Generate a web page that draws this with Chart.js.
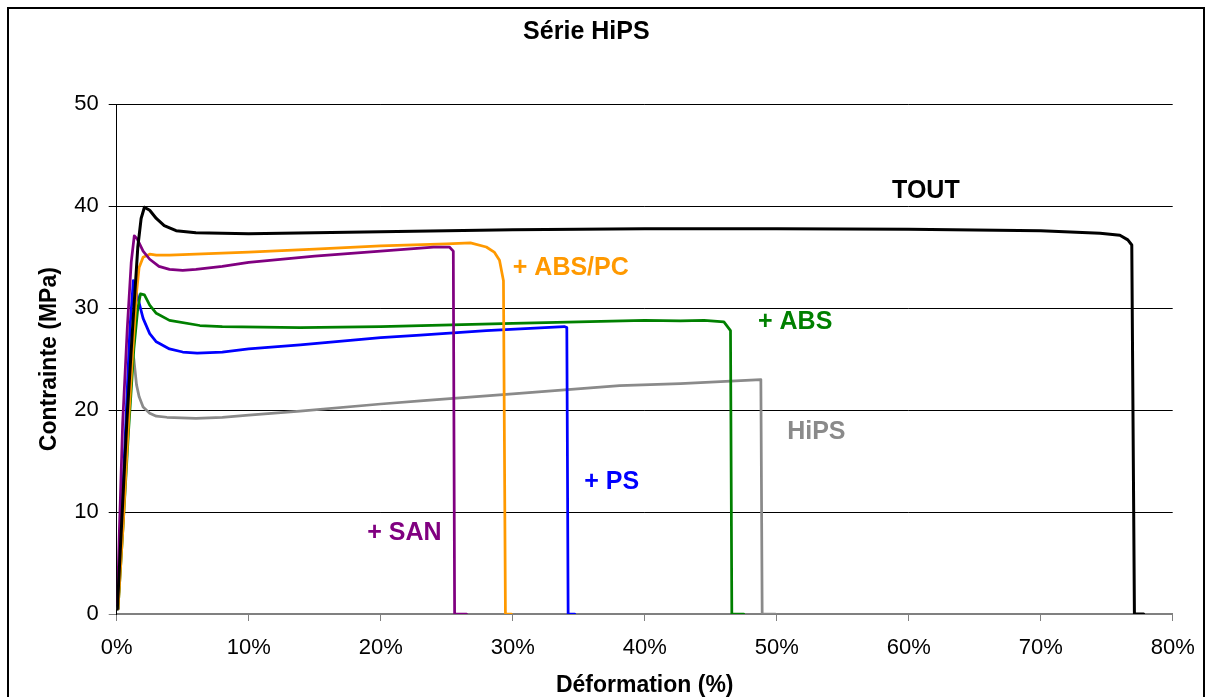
<!DOCTYPE html>
<html>
<head>
<meta charset="utf-8">
<script src="https://cdn.jsdelivr.net/npm/chart.js@4.4.1/dist/chart.umd.min.js"></script>
<style>
html,body{margin:0;padding:0;background:#fff;}
#wrap{width:1212px;height:697px;position:relative;}
</style>
</head>
<body>
<div id="wrap"><canvas id="c"></canvas></div>
<script>
// ---- Data (strain %, stress MPa) ----
const xTicks = [0, 10, 20, 30, 40, 50, 60, 70, 80];
const yTicks = [0, 10, 20, 30, 40, 50];

const toutX = [0.05, 0.3, 0.76, 1.2, 1.6, 1.85, 2.1, 2.5, 3.0, 3.6, 4.5, 6.0, 8, 10, 15, 20, 30, 40, 50, 60, 70, 74.5, 76.0, 76.6, 76.9, 77.1, 77.8];
const toutY = [0.5, 7, 18.7, 28, 36, 38.8, 39.9, 39.6, 38.8, 38.1, 37.6, 37.4, 37.35, 37.3, 37.4, 37.5, 37.7, 37.8, 37.8, 37.75, 37.6, 37.35, 37.15, 36.7, 36.2, 0, 0];

const sanX = [0.05, 0.2, 0.45, 0.8, 1.1, 1.33, 1.55, 2.0, 2.5, 3.2, 4.0, 5.0, 6.0, 8, 10, 15, 20, 24, 25.2, 25.5, 25.6, 26.5];
const sanY = [1, 8, 18.7, 28, 34.5, 37.1, 36.8, 35.6, 34.8, 34.1, 33.8, 33.7, 33.8, 34.1, 34.5, 35.1, 35.6, 36.0, 36.0, 35.6, 0, 0];

const abspcX = [0.1, 0.5, 0.86, 1.2, 1.5, 1.7, 2.0, 2.5, 3.0, 4.0, 6.0, 10, 15, 20, 25, 26.8, 28.0, 28.6, 29.0, 29.3, 29.45, 29.9];
const abspcY = [0.5, 9, 18, 25.5, 31.5, 34, 35.0, 35.3, 35.2, 35.2, 35.3, 35.5, 35.8, 36.1, 36.3, 36.4, 36.0, 35.5, 34.7, 32.7, 0, 0];

const absX = [0.1, 0.5, 0.9, 1.3, 1.6, 1.8, 2.1, 2.5, 3.0, 4.0, 6.3, 8, 13.9, 20, 30, 40, 42.7, 44.5, 46.0, 46.5, 46.6, 47.5];
const absY = [0.5, 9, 18, 26, 30, 31.4, 31.3, 30.3, 29.5, 28.8, 28.3, 28.2, 28.1, 28.2, 28.5, 28.8, 28.75, 28.8, 28.65, 27.8, 0, 0];

const psX = [0.1, 0.4, 0.7, 1.0, 1.26, 1.5, 2.0, 2.5, 3.0, 4.0, 5.0, 6.1, 8, 10, 13.9, 20, 23, 28, 33.9, 34.1, 34.2, 34.7];
const psY = [0.5, 10, 19, 28, 32.7, 31.5, 29.0, 27.5, 26.7, 26.0, 25.7, 25.6, 25.7, 26.0, 26.4, 27.1, 27.35, 27.8, 28.2, 28.1, 0, 0];

const hipsX = [0.1, 0.4, 0.7, 0.95, 1.1, 1.3, 1.5, 1.7, 2.0, 2.5, 3.0, 3.8, 6.0, 8, 10, 13.9, 20, 23, 30, 38.1, 42.7, 48.8, 48.9, 49.9];
const hipsY = [0.5, 9, 17, 24, 26, 25, 22.5, 21.3, 20.3, 19.7, 19.4, 19.3, 19.2, 19.3, 19.5, 19.9, 20.6, 20.9, 21.6, 22.4, 22.6, 23.0, 0, 0];

const seriesNames = ['TOUT', '+ SAN', '+ ABS/PC', '+ ABS', '+ PS', 'HiPS'];
const seriesColors = ['#000000', '#800080', '#FF9900', '#008000', '#0000FF', '#8A8A8A'];
const seriesX = [toutX, sanX, abspcX, absX, psX, hipsX];
const seriesY = [toutY, sanY, abspcY, absY, psY, hipsY];

// label anchor positions in data units
const labelX = [61.3, 21.8, 34.4, 51.4, 37.5, 53.0];
const labelY = [41.5, 7.9, 33.9, 28.6, 12.9, 17.85];

// ---- Build datasets ----
const datasets = seriesNames.map((name, i) => ({
  label: name,
  data: seriesX[i].map((x, j) => ({x: x, y: seriesY[i][j]})),
  borderColor: seriesColors[i],
  backgroundColor: seriesColors[i],
  borderWidth: i === 0 ? 3 : 2.75,
  pointRadius: 0,
  pointHoverRadius: 0,
  tension: 0,
  showLine: true,
  fill: false,
  borderJoinStyle: 'round',
  borderCapStyle: 'round'
}));

Chart.defaults.font.family = "'Liberation Sans', Arial, sans-serif";
Chart.defaults.color = '#000';

const framePlugin = {
  id: 'frame',
  beforeDraw(chart) {
    const ctx = chart.ctx;
    ctx.save();
    ctx.fillStyle = '#fff';
    ctx.fillRect(0, 0, chart.width, chart.height);
    ctx.restore();
  },
  afterDraw(chart) {
    const ctx = chart.ctx;
    ctx.save();
    ctx.strokeStyle = '#000';
    ctx.lineWidth = 2;
    ctx.strokeRect(8, 8, 1196, 720);
    ctx.restore();
  }
};

const labelPlugin = {
  id: 'seriesLabels',
  afterDatasetsDraw(chart) {
    const ctx = chart.ctx;
    const xs = chart.scales.x, ys = chart.scales.y;
    ctx.save();
    ctx.font = "bold 25px 'Liberation Sans', Arial, sans-serif";
    ctx.textAlign = 'center';
    ctx.textBaseline = 'middle';
    seriesNames.forEach((name, i) => {
      ctx.fillStyle = seriesColors[i];
      ctx.fillText(name, xs.getPixelForValue(labelX[i]), ys.getPixelForValue(labelY[i]));
    });
    ctx.restore();
  }
};

new Chart(document.getElementById('c'), {
  type: 'scatter',
  data: { datasets: datasets },
  options: {
    responsive: true,
    maintainAspectRatio: false,
    animation: false,
    layout: { padding: { left: 0, right: 39.3, top: 0, bottom: 0 } },
    plugins: {
      legend: { display: false },
      tooltip: { enabled: false },
      title: {
        display: true,
        text: 'Série HiPS',
        color: '#000',
        font: { size: 25, weight: 'bold', lineHeight: 1.2 },
        padding: { top: 17, bottom: 57.3 }
      }
    },
    scales: {
      x: {
        type: 'linear',
        min: 0, max: 80,
        afterBuildTicks: (s) => { s.ticks = xTicks.map(v => ({value: v})); },
        afterFit: (s) => { s.height = 83; },
        ticks: {
          color: '#000',
          font: { size: 22 },
          padding: 13.3,
          maxRotation: 0,
          callback: (v) => v + '%'
        },
        grid: {
          display: true,
          drawOnChartArea: false,
          drawTicks: true,
          tickLength: 7,
          color: '#808080',
          lineWidth: 1
        },
        border: { display: true, color: '#808080', width: 2 },
        title: {
          display: true,
          text: 'Déformation (%)',
          color: '#000',
          font: { size: 23, weight: 'bold', lineHeight: 0.9 },
          padding: { top: 0, bottom: 0.65 }
        }
      },
      y: {
        type: 'linear',
        min: 0, max: 50,
        afterBuildTicks: (s) => { s.ticks = yTicks.map(v => ({value: v})); },
        afterFit: (s) => { s.width = 116.7; },
        ticks: {
          color: '#000',
          font: { size: 22 },
          padding: 10
        },
        grid: {
          display: true,
          drawOnChartArea: true,
          drawTicks: true,
          tickLength: 8,
          color: (c) => (c.tick && c.tick.value === 0) ? '#808080' : '#000000',
          lineWidth: 1
        },
        border: { display: true, color: '#000', width: 1 },
        title: {
          display: true,
          text: 'Contrainte (MPa)',
          color: '#000',
          font: { size: 23, weight: 'bold', lineHeight: 1.0 },
          padding: { top: 38.5, bottom: 0 }
        }
      }
    }
  },
  plugins: [framePlugin, labelPlugin]
});
</script>
</body>
</html>
